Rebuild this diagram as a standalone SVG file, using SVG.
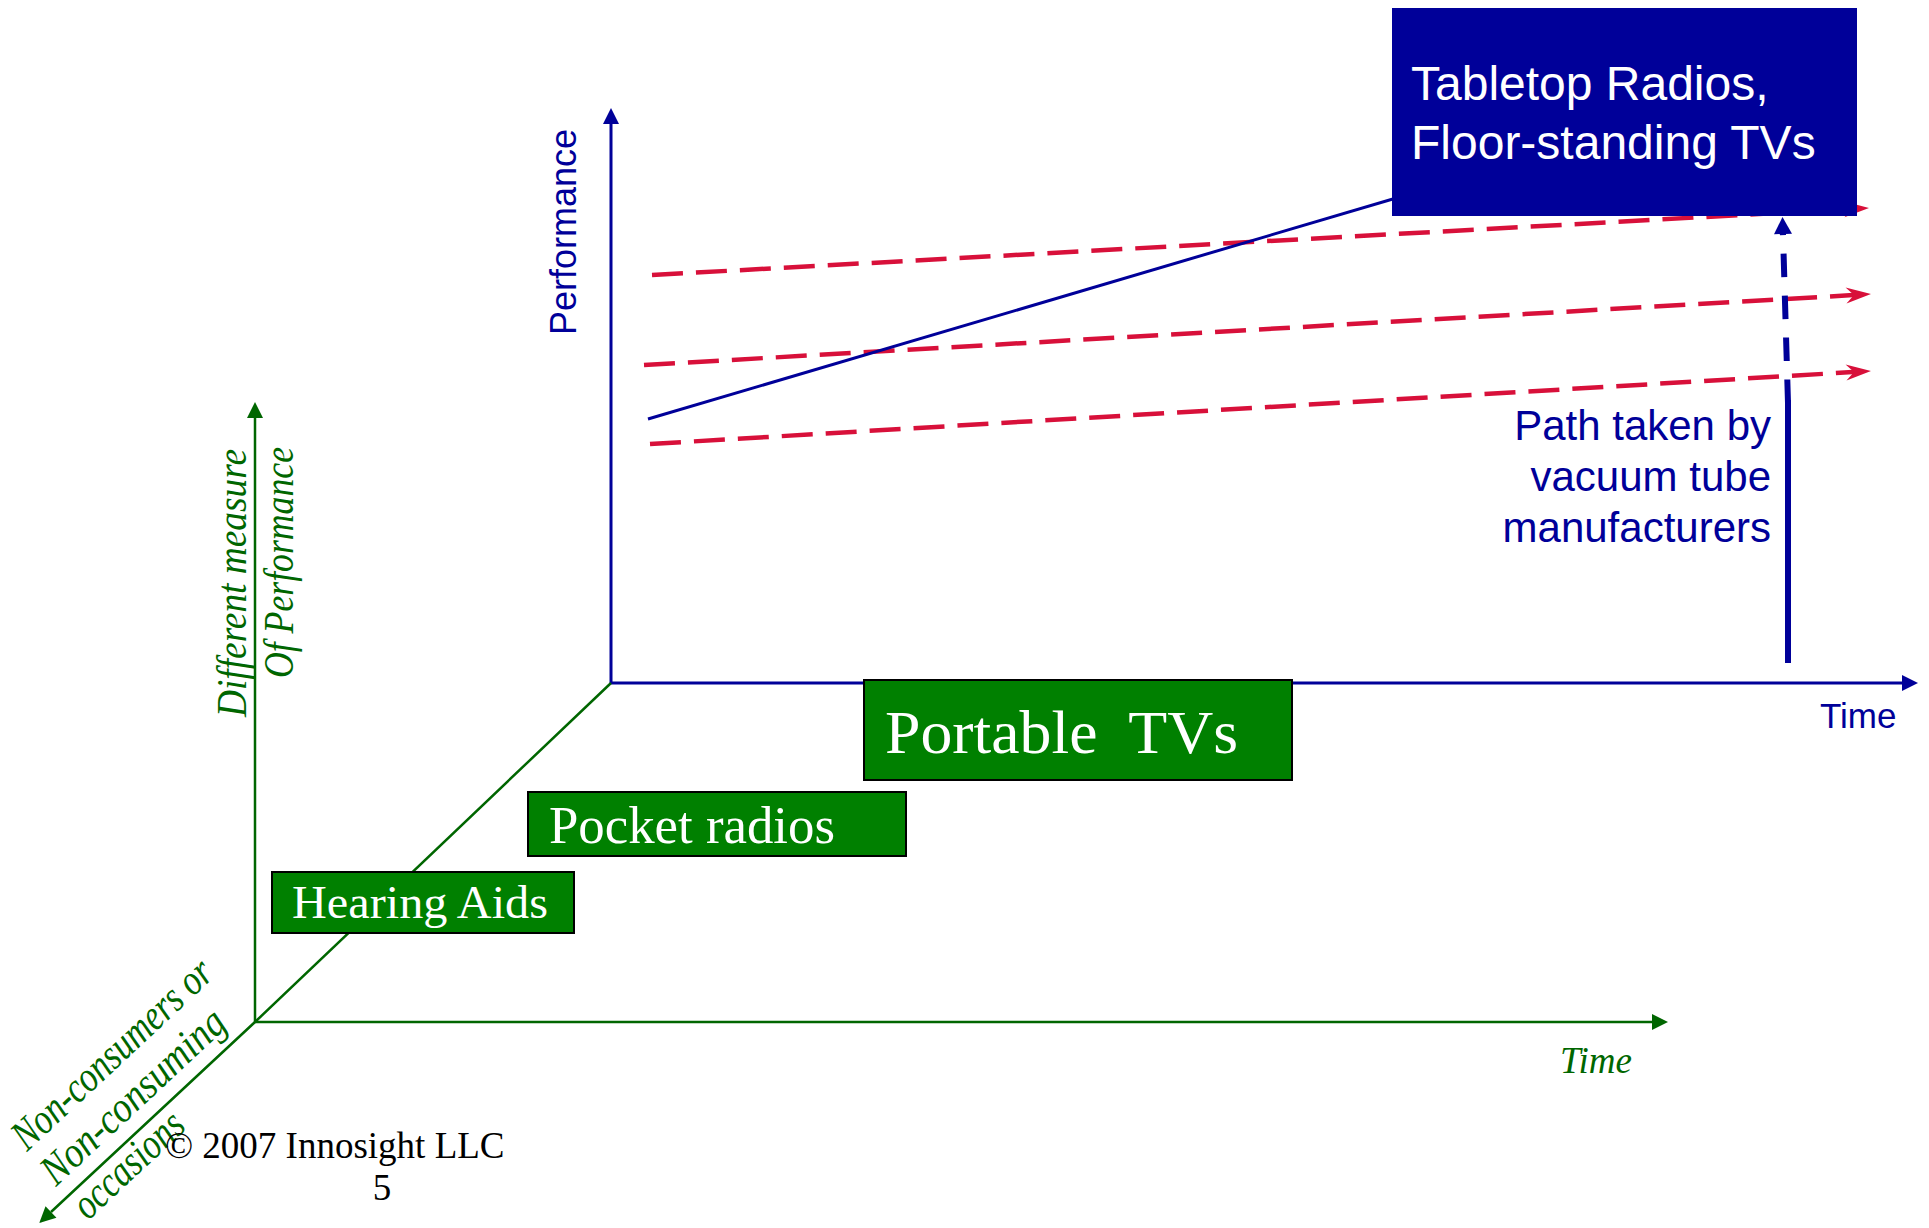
<svg xmlns="http://www.w3.org/2000/svg" width="1929" height="1228" viewBox="0 0 1929 1228">
  <style>
    .sans { font-family: "Liberation Sans", Arial, sans-serif; }
    .serif { font-family: "Liberation Serif", "Times New Roman", serif; }
    .ital { font-family: "Liberation Serif", "Times New Roman", serif; font-style: italic; fill: #006600; }
    .blue-axis { stroke: #000099; stroke-width: 3; fill: none; }
    .green-axis { stroke: #006600; stroke-width: 2.5; fill: none; }
    .red-dash { stroke: #D8103A; stroke-width: 4.5; fill: none; stroke-dasharray: 31 13; }
    .gbox { fill: #008000; stroke: #000000; stroke-width: 2; }
    .gtext { fill: #ffffff; }
    .path-label { font-family: "Liberation Sans", Arial, sans-serif; font-size: 42px; fill: #000099; text-anchor: end; }
  </style>
  <defs>
    <marker id="arrowBlue" markerUnits="userSpaceOnUse" markerWidth="16" markerHeight="16" refX="0" refY="8" orient="auto" overflow="visible">
      <path d="M0,0 L16,8 L0,16 Z" fill="#000099"/>
    </marker>
    <marker id="arrowBlueBig" markerUnits="userSpaceOnUse" markerWidth="18" markerHeight="18" refX="0" refY="9" orient="auto" overflow="visible">
      <path d="M0,0 L17,9 L0,18 Z" fill="#000099"/>
    </marker>
    <marker id="arrowGreen" markerUnits="userSpaceOnUse" markerWidth="16" markerHeight="16" refX="0" refY="8" orient="auto" overflow="visible">
      <path d="M0,0 L16,8 L0,16 Z" fill="#006600"/>
    </marker>
    <marker id="arrowRed" markerUnits="userSpaceOnUse" markerWidth="26" markerHeight="16" refX="15" refY="8" orient="auto" overflow="visible">
      <path d="M0,0 L25,8 L0,16 L8,8 Z" fill="#D8103A"/>
    </marker>
  </defs>

  <!-- axes, trajectories and arrows -->
  <g id="connectors">
    <!-- sustaining-performance trajectories -->
    <path class="red-dash" d="M652,275 L1859,208.5" marker-end="url(#arrowRed)"/>
    <path class="red-dash" d="M644,365 L1861,294.6" marker-end="url(#arrowRed)"/>
    <path class="red-dash" d="M650,444 L1861,371.6" marker-end="url(#arrowRed)"/>
    <!-- technology trajectory -->
    <path d="M648,419 L1420,191" stroke="#000099" stroke-width="3" fill="none"/>

    <!-- original value-network axes -->
    <path class="blue-axis" d="M611,683 L611,124" marker-end="url(#arrowBlue)"/>
    <path class="blue-axis" d="M611,683 L1902,683" marker-end="url(#arrowBlue)"/>

    <!-- new value-network axes -->
    <path class="green-axis" d="M255,1022 L255,418" marker-end="url(#arrowGreen)"/>
    <path class="green-axis" d="M255,1022 L1652,1022" stroke-width="3" marker-end="url(#arrowGreen)"/>
    <path class="green-axis" d="M611,683 L255,1022 L51,1212" marker-end="url(#arrowGreen)"/>

    <!-- vacuum tube path -->
    <path d="M1788,663 L1788,400" stroke="#000099" stroke-width="6" fill="none"/>
    <path d="M1788,403 L1783,234" stroke="#000099" stroke-width="6" fill="none" stroke-dasharray="23.5 18.5" marker-end="url(#arrowBlueBig)"/>
  </g>

  <g id="tabletop-box">
    <rect x="1392" y="8" width="465" height="208" fill="#000099"/>
    <text class="sans" x="1411" y="100" font-size="48" fill="#ffffff">Tabletop Radios,</text>
    <text class="sans" x="1411" y="159" font-size="48" fill="#ffffff">Floor-standing TVs</text>
  </g>

  <g id="performance-label">
    <text class="sans" transform="translate(576,335) rotate(-90)" font-size="36" fill="#000099">Performance</text>
  </g>

  <g id="time-label">
    <text class="sans" x="1820" y="728" font-size="35" fill="#000099">Time</text>
  </g>

  <g id="path-label">
    <text class="path-label" x="1771" y="440">Path taken by</text>
    <text class="path-label" x="1771" y="491">vacuum tube</text>
    <text class="path-label" x="1771" y="542">manufacturers</text>
  </g>

  <g id="different-measure-label">
    <text class="ital" transform="translate(246,717) rotate(-90)" font-size="43" textLength="268" lengthAdjust="spacingAndGlyphs">Different measure</text>
    <text class="ital" transform="translate(293,678) rotate(-90)" font-size="43" textLength="231" lengthAdjust="spacingAndGlyphs">Of Performance</text>
  </g>

  <g id="green-time-label">
    <text class="ital" x="1560" y="1073" font-size="38" textLength="72" lengthAdjust="spacingAndGlyphs">Time</text>
  </g>

  <g id="non-consumers-label">
    <text class="ital" transform="translate(27,1152) rotate(-43)" font-size="43" textLength="258" lengthAdjust="spacingAndGlyphs">Non-consumers or</text>
    <text class="ital" transform="translate(56,1187) rotate(-43)" font-size="43" textLength="236" lengthAdjust="spacingAndGlyphs">Non-consuming</text>
    <text class="ital" transform="translate(88,1221) rotate(-43)" font-size="43" textLength="136" lengthAdjust="spacingAndGlyphs">occasions</text>
  </g>

  <g id="portable-tvs">
    <rect class="gbox" x="864" y="680" width="428" height="100"/>
    <text class="serif gtext" x="885" y="753" font-size="62" xml:space="preserve" textLength="353" lengthAdjust="spacingAndGlyphs">Portable  TVs</text>
  </g>

  <g id="pocket-radios">
    <rect class="gbox" x="528" y="792" width="378" height="64"/>
    <text class="serif gtext" x="549" y="843" font-size="52" textLength="286" lengthAdjust="spacingAndGlyphs">Pocket radios</text>
  </g>

  <g id="hearing-aids">
    <rect class="gbox" x="272" y="872" width="302" height="61"/>
    <text class="serif gtext" x="292" y="918" font-size="47" textLength="256" lengthAdjust="spacingAndGlyphs">Hearing Aids</text>
  </g>

  <g id="footer">
    <text class="serif" x="165" y="1158" font-size="37" fill="#000000">© 2007 Innosight LLC</text>
    <text class="serif" x="382" y="1200" font-size="37" fill="#000000" text-anchor="middle">5</text>
  </g>
</svg>
